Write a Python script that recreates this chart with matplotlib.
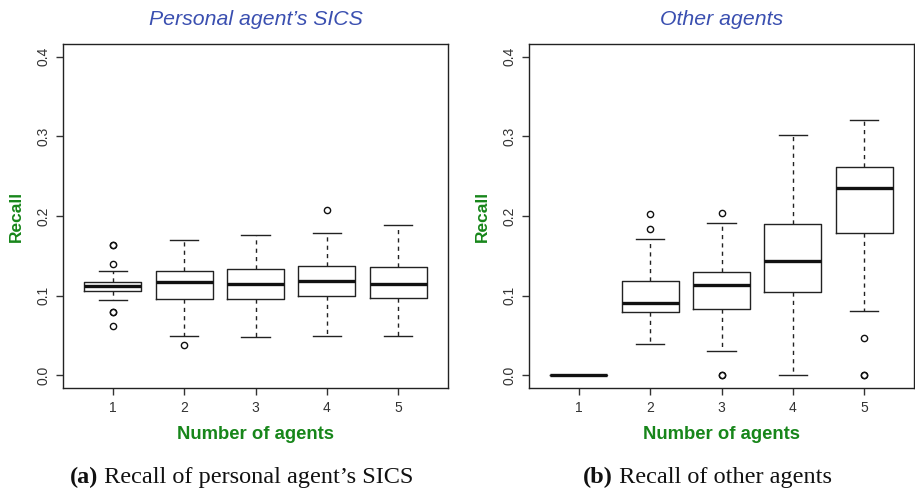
import matplotlib
matplotlib.use("Agg")
import matplotlib.pyplot as plt

# ---- data ----
agents = [1, 2, 3, 4, 5]

# Panel (a): personal agent's SICS
a_whislo = [0.0941, 0.0494, 0.0481, 0.0498, 0.0494]
a_q1     = [0.1059, 0.0954, 0.0954, 0.0992, 0.0971]
a_med    = [0.1121, 0.1176, 0.1151, 0.1184, 0.1151]
a_q3     = [0.1167, 0.1305, 0.1331, 0.1377, 0.1356]
a_whishi = [0.1305, 0.1703, 0.1766, 0.1791, 0.1891]
a_fliers = [[0.1636, 0.1636, 0.1393, 0.0791, 0.0791, 0.0623],
            [0.0377], [], [0.2075], []]

# Panel (b): other agents
b_whislo = [0.0, 0.0393, 0.0305, 0.0, 0.0803]
b_q1     = [0.0, 0.0795, 0.0833, 0.1046, 0.1791]
b_med    = [0.0, 0.0912, 0.1134, 0.1435, 0.2355]
b_q3     = [0.0, 0.1188, 0.1293, 0.1900, 0.2619]
b_whishi = [0.0, 0.1707, 0.1916, 0.3016, 0.3210]
b_fliers = [[], [0.2021, 0.1833], [0.2042, 0.0, 0.0], [], [0.0473, 0.0, 0.0]]

yticks = [0.0, 0.1, 0.2, 0.3, 0.4]
titles = ["Personal agent\u2019s SICS", "Other agents"]
captions = [("(a)", " Recall of personal agent\u2019s SICS"),
            ("(b)", " Recall of other agents")]
xlabel = "Number of agents"
ylabel = "Recall"

BLUE = "#3a4fb0"
GREEN = "#17861a"
SANS = "Liberation Sans"
SERIF = "Liberation Serif"

fig = plt.figure(figsize=(9.15, 4.91), dpi=100)
positions = [[63/915, 1-388/491, 385/915, 344/491],
             [529/915, 1-388/491, 385/915, 344/491]]

panels = [(a_whislo, a_q1, a_med, a_q3, a_whishi, a_fliers),
          (b_whislo, b_q1, b_med, b_q3, b_whishi, b_fliers)]

CAP_FS = 17.5
cap_y = 1 - 477/491

for i, (lo, q1, med, q3, hi, fl) in enumerate(panels):
    ax = fig.add_axes(positions[i])
    stats = []
    for k in range(len(agents)):
        stats.append(dict(whislo=lo[k], q1=q1[k], med=med[k], q3=q3[k],
                          whishi=hi[k], fliers=fl[k], label=str(agents[k])))
    ax.bxp(stats, positions=agents, widths=0.8, showfliers=True,
           boxprops=dict(color="#222222", linewidth=1.0),
           medianprops=dict(color="#111111", linewidth=2.4),
           whiskerprops=dict(color="#222222", linewidth=1.0, linestyle=(0, (3, 3))),
           capprops=dict(color="#222222", linewidth=1.0),
           flierprops=dict(marker="o", markerfacecolor="none",
                           markeredgecolor="#111111", markersize=4.5,
                           markeredgewidth=1.0, linestyle="none"))
    ax.set_xlim(0.3, 5.7)
    ax.set_ylim(-0.016, 0.416)
    ax.set_yticks(yticks)
    ax.set_yticklabels([f"{v:.1f}" for v in yticks], rotation=90,
                       va="center", fontsize=10, family=SANS, color="#333333")
    ax.set_xticks(agents)
    ax.set_xticklabels([str(a) for a in agents], fontsize=10, family=SANS,
                       color="#333333")
    ax.tick_params(axis="both", length=5, width=1.0, color="#333333", pad=4)
    for s in ax.spines.values():
        s.set_color("#222222")
        s.set_linewidth(1.0)
    ax.set_xlabel(xlabel, fontsize=13.3, fontweight="bold", color=GREEN,
                  family=SANS, labelpad=8)
    ax.set_ylabel(ylabel, fontsize=12.5, fontweight="bold", color=GREEN,
                  family=SANS, labelpad=9)
    ax.set_title(titles[i], fontsize=15.3, style="italic", color=BLUE,
                 family=SANS, pad=14)

    # caption below each panel: bold "(a)" followed by regular text
    x_left = [70/915, 583/915][i]
    ta = fig.text(x_left, cap_y, captions[i][0], fontsize=CAP_FS, family=SERIF,
                  fontweight="bold", color="#111111", ha="left", va="center")
    fig.canvas.draw()
    r = fig.canvas.get_renderer()
    bba = ta.get_window_extent(r)
    fig.text(bba.x1 / fig.bbox.width, cap_y, captions[i][1], fontsize=CAP_FS,
             family=SERIF, color="#111111", ha="left", va="center")

fig.savefig("out.png", dpi=100)
